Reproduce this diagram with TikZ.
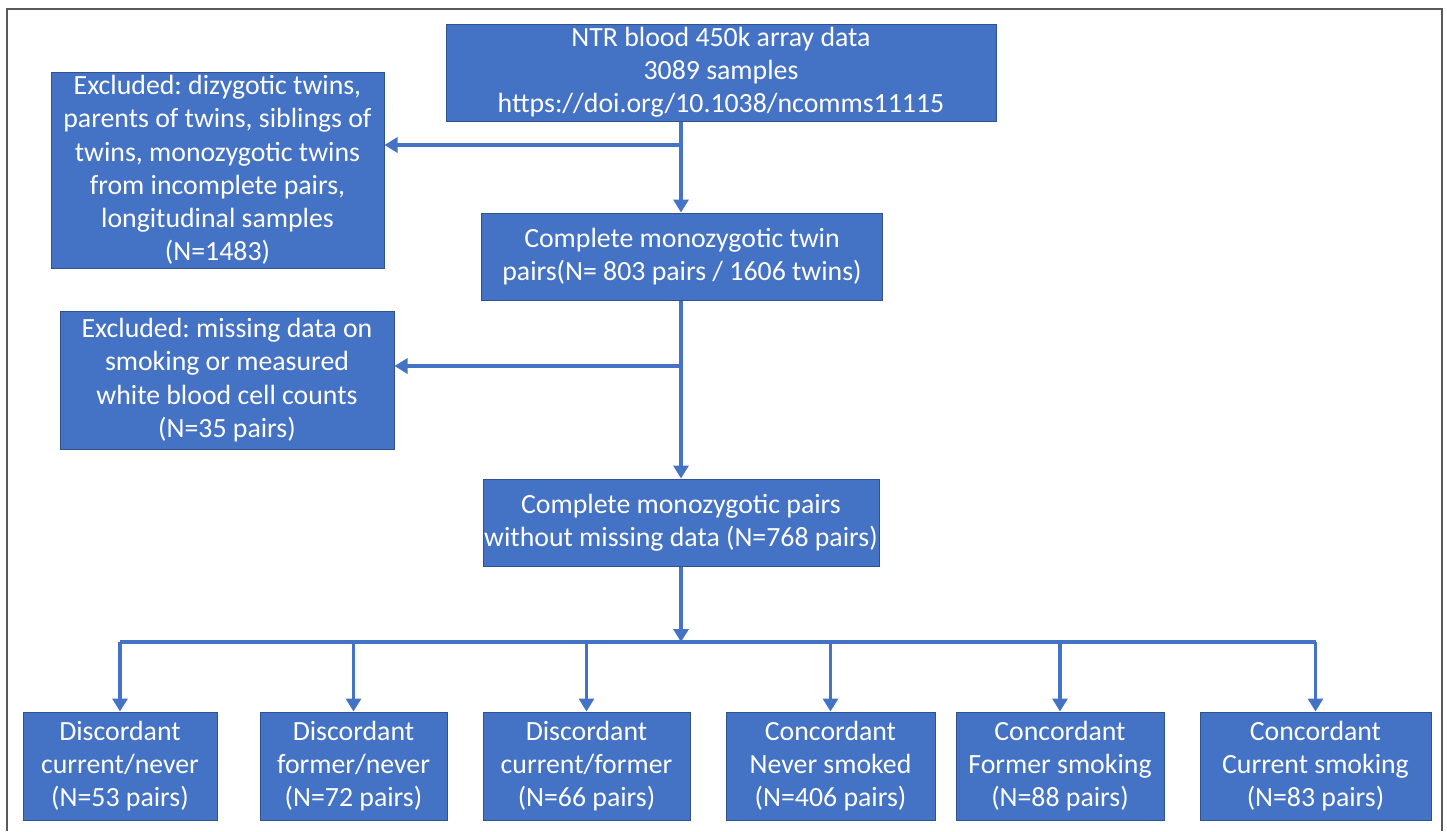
\documentclass[tikz,border=0pt]{standalone}
\usepackage{fontspec}
\setmainfont{Carlito}
\frenchspacing
\usetikzlibrary{arrows.meta}
\definecolor{boxblue}{HTML}{4472C4}
\definecolor{boxedge}{HTML}{2F528F}
\definecolor{framegray}{HTML}{595959}
\tikzset{
  box/.style={draw=boxedge, line width=0.5pt, fill=boxblue, text=white,
    align=center, inner sep=0pt, font=\fontsize{13.9}{16.6}\selectfont},
  arr/.style={draw=boxblue, line width=1.7pt, -{Triangle[length=6.5pt,width=7.5pt]}},
  ln/.style={draw=boxblue, line width=1.7pt}
}

\begin{document}
\begin{tikzpicture}[x=0.5pt,y=-0.5pt]
    \useasboundingbox (0,0) rectangle (1447,831);
    \draw[framegray, line width=1pt] (7,831) -- (7,9) -- (1442,9) -- (1442,831);

    % main column
    \node[box, minimum width=275pt, minimum height=48.5pt] (top) at (721,72.5)
      {NTR blood 450k array data\\3089 samples\\https://doi.org/10.1038/ncomms11115};
    \node[box, minimum width=200.5pt, minimum height=43.5pt] (twin) at (682,256.5)
      {Complete monozygotic twin\\pairs(N= 803 pairs / 1606 twins)};
    \node[box, minimum width=198pt, minimum height=43.5pt] (nomiss) at (681,522.5)
      {Complete monozygotic pairs\\without missing data (N=768 pairs)};

    % exclusions
    \node[box, minimum width=166.5pt, minimum height=98pt] (ex1) at (217.5,170)
      {Excluded: dizygotic twins,\\parents of twins, siblings of\\twins, monozygotic twins\\from incomplete pairs,\\longitudinal samples\\(N=1483)};
    \node[box, minimum width=167pt, minimum height=69pt] (ex2) at (227,380)
      {Excluded: missing data on\\smoking or measured\\white blood cell counts\\(N=35 pairs)};

    \coordinate (j1) at (681,145);
    \coordinate (j2) at (681,366);
    \coordinate (bar) at (681,642);

    \draw[arr] (top.south -| j1) -- (j1 |- twin.north);
    \draw[arr] (j1) -- (j1 -| ex1.east);
    \draw[arr] (j1 |- twin.south) -- (j1 |- nomiss.north);
    \draw[arr] (j2) -- (j2 -| ex2.east);
    \draw[arr] (nomiss.south) -- (bar);

    % smoking groups
    \foreach \n/\cx/\w/\txt in {
      b1/120/194/{Discordant\\current/never\\(N=53 pairs)},
      b2/353.5/187/{Discordant\\former/never\\(N=72 pairs)},
      b3/586.5/207/{Discordant\\current/former\\(N=66 pairs)},
      b4/830.5/209/{Concordant\\Never smoked\\(N=406 pairs)},
      b5/1060/208/{Concordant\\Former smoking\\(N=88 pairs)},
      b6/1315.5/231/{Concordant\\Current smoking\\(N=83 pairs)}}
    {
      \node[box, minimum width={0.5pt*\w}, minimum height=54pt] (\n) at (\cx,766) {\txt};
    }

    \draw[ln] (bar -| b1.north) -- (bar -| b6.north);
    \foreach \n in {b1,b2,b3,b4,b5,b6}
    {
      \draw[arr] (bar -| \n.north) -- (\n.north);
    }
\end{tikzpicture}
\end{document}
